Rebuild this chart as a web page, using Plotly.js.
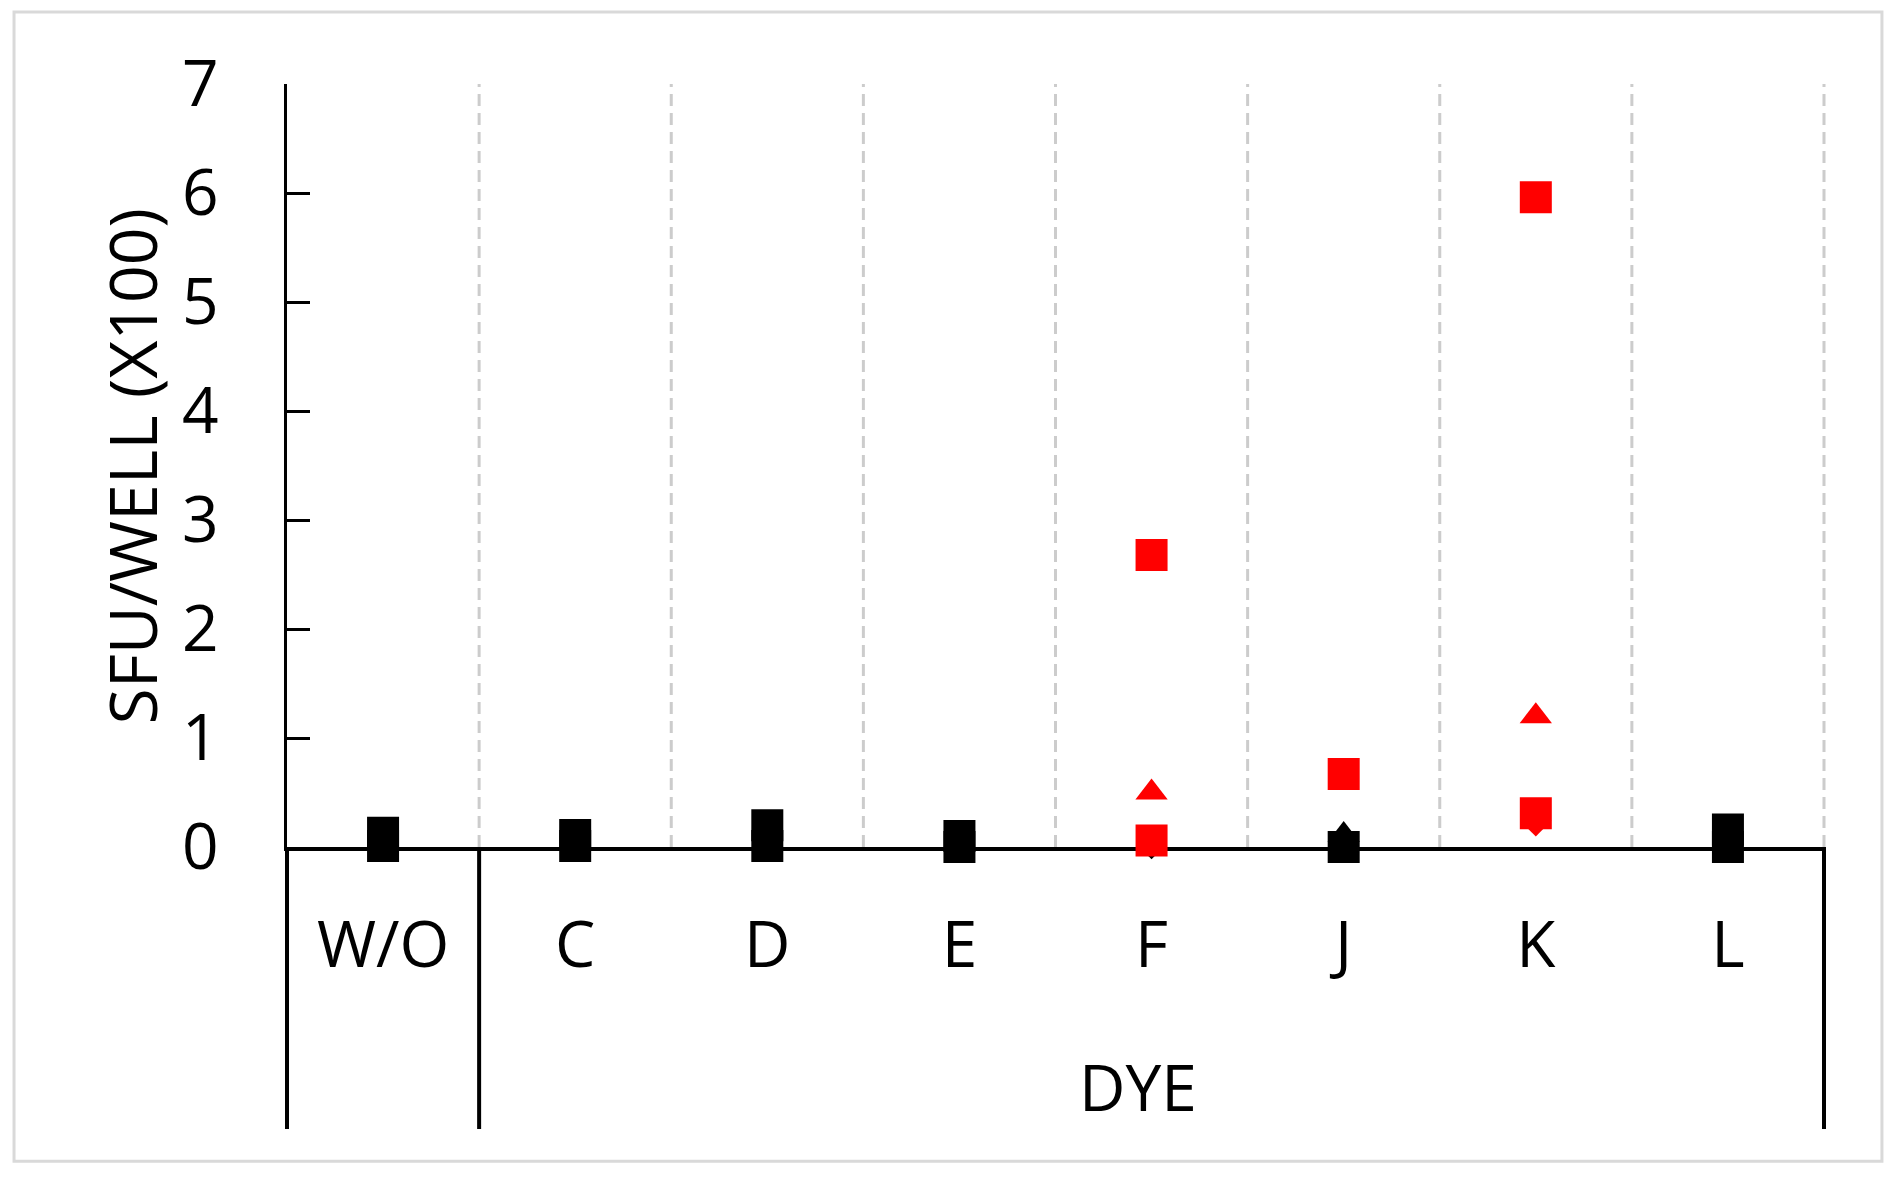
<!DOCTYPE html>
<html>
<head>
<meta charset="utf-8">
<script src="https://cdn.plot.ly/plotly-3.0.1.min.js"></script>
<style>
  html, body { margin: 0; padding: 0; background: #ffffff; }
  #chart { width: 1898px; height: 1178px; }
</style>
</head>
<body>
<div id="chart"></div>
<script>
// ---- Data ----
const categories = ['W/O', 'C', 'D', 'E', 'F', 'J', 'K', 'L'];
const groupLabels = ['', 'DYE'];              // level-2 category labels
const groupStarts = [0, 1];                   // index of first category in each group
const yTickValues = [0, 1, 2, 3, 4, 5, 6, 7];

const blackSquareUpper = [0.13, 0.11, 0.20, 0.10, null, null, null, 0.16];
const blackSquareLower = [0.01, 0.01, 0.01, 0.00, null, 0.00, null, 0.00];
const blackTriangle    = [null, null, null, null, null, 0.11, null, null];
const blackDiamond     = [null, null, null, null, 0.03, null, null, null];
const redDiamond       = [null, null, null, null, null, null, 0.24, null];
const redTriangle      = [null, null, null, null, 0.50, null, 1.20, null];
const redSquareLower   = [null, null, null, null, 0.06, null, 0.31, null];
const redSquareUpper   = [null, null, null, null, 2.68, 0.67, 5.96, null];

// ---- Styling ----
const FONT = '"Open Sans", "Noto Sans", sans-serif';
const FS = 64;
const RED = '#ff0000';
const BLACK = '#000000';
const LW = 3.5;

const xIdx = categories.map((c, i) => i);

function series(name, values, symbol, color, size) {
  return {
    type: 'scatter', mode: 'markers', name: name,
    x: xIdx, y: values,
    cliponaxis: false,
    marker: { symbol: symbol, color: color, size: size, line: { width: 0 } },
    hoverinfo: 'x+y'
  };
}

const traces = [
  series('Black square (upper)', blackSquareUpper, 'square', BLACK, 32),
  series('Black square (lower)', blackSquareLower, 'square', BLACK, 32),
  series('Black triangle', blackTriangle, 'triangle-up', BLACK, 28),
  series('Black diamond', blackDiamond, 'diamond', BLACK, 24),
  series('Red diamond', redDiamond, 'diamond', RED, 24),
  series('Red triangle', redTriangle, 'triangle-up', RED, 28),
  series('Red square (lower)', redSquareLower, 'square', RED, 32),
  series('Red square (upper)', redSquareUpper, 'square', RED, 32)
];

const n = categories.length;
const xMin = -0.5, xMax = n - 0.5;
const toPaperX = v => (v - xMin) / (xMax - xMin);

const shapes = [];
// dashed vertical gridlines at category boundaries
for (let i = 0; i < n; i++) {
  shapes.push({
    type: 'line', xref: 'paper', yref: 'y', layer: 'below',
    x0: toPaperX(i + 0.5), x1: toPaperX(i + 0.5), y0: 0, y1: yTickValues[yTickValues.length - 1],
    line: { color: '#cccccc', width: 3, dash: '12px,7px' }
  });
}
// Multi-level category separators below the axis
const separators = groupStarts.map(s => s - 0.5).concat([n - 0.5]);
const sepBottom = -0.3696;
separators.forEach(xv => shapes.push({
  type: 'line', xref: 'paper', yref: 'paper',
  x0: toPaperX(xv), x1: toPaperX(xv), y0: 0, y1: sepBottom,
  line: { color: BLACK, width: 4 }
}));
// outer frame of the picture
shapes.push({
  type: 'rect', xref: 'paper', yref: 'paper',
  x0: -0.1776, x1: 1.0377, y0: -0.412, y1: 1.0944,
  line: { color: '#d9d9d9', width: 3 }, fillcolor: 'rgba(0,0,0,0)'
});

const annotations = [];
groupLabels.forEach((g, gi) => {
  if (!g) return;
  const start = groupStarts[gi];
  const end = gi + 1 < groupStarts.length ? groupStarts[gi + 1] - 1 : n - 1;
  annotations.push({
    text: g, xref: 'x', yref: 'paper',
    x: (start + end) / 2 - 0.07, y: -0.3145,
    xanchor: 'center', yanchor: 'middle', showarrow: false,
    font: { family: FONT, size: FS, color: BLACK }
  });
});
annotations.push({
  text: 'SFU/WELL (X100)', xref: 'paper', yref: 'paper',
  x: -0.1015, y: 0.5, textangle: -90,
  xanchor: 'center', yanchor: 'middle', showarrow: false,
  font: { family: FONT, size: 66, color: BLACK }
});

const layout = {
  width: 1898, height: 1178,
  margin: { l: 287, r: 74, t: 84, b: 331, pad: 0 },
  paper_bgcolor: '#ffffff', plot_bgcolor: '#ffffff',
  showlegend: false,
  font: { family: FONT, size: FS, color: BLACK },
  xaxis: {
    type: 'linear', range: [xMin, xMax], fixedrange: true,
    tickmode: 'array', tickvals: xIdx, ticktext: categories,
    ticks: '', showgrid: false, zeroline: false,
    showline: true, linecolor: BLACK, linewidth: LW,
    tickfont: { family: FONT, size: FS, color: BLACK },
    ticklabelstandoff: 40,
    layer: 'below traces'
  },
  yaxis: {
    range: [0, 7], fixedrange: true,
    tickmode: 'array', tickvals: yTickValues,
    ticks: 'inside', ticklen: 23, tickwidth: 3, tickcolor: BLACK,
    showgrid: false, zeroline: false,
    showline: true, linecolor: BLACK, linewidth: LW,
    tickfont: { family: FONT, size: FS, color: BLACK },
    ticklabelstandoff: 52,
    layer: 'below traces'
  },
  shapes: shapes,
  annotations: annotations
};

Plotly.newPlot('chart', traces, layout, { displayModeBar: false, staticPlot: true });
</script>
</body>
</html>
